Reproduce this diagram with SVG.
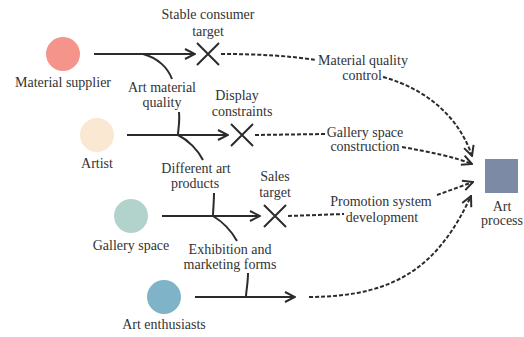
<svg xmlns="http://www.w3.org/2000/svg" width="524" height="337" viewBox="0 0 524 337">
<defs>
<marker id="arr" viewBox="0 0 12 12" refX="11" refY="6" markerWidth="12" markerHeight="12" markerUnits="userSpaceOnUse" orient="auto">
<polyline points="1,1 11,6 1,11" fill="none" stroke="#2b2b2b" stroke-width="2"/>
</marker>
</defs>
<style>
text{font-family:'Liberation Serif','Times New Roman',Times,serif;font-size:14px;fill:#333;text-anchor:middle}
.s{fill:none;stroke:#2b2b2b;stroke-width:2}
.d{fill:none;stroke:#2b2b2b;stroke-width:2;stroke-dasharray:4,2}
</style>
<rect width="524" height="337" fill="#fff"/>
<g font-family="Liberation Serif, serif">
<g id="material-supplier"><circle cx="63" cy="54" r="17" fill="#F4948A"/><text x="63" y="87">Material supplier</text></g>
<g id="artist"><circle cx="97" cy="135" r="17" fill="#FBE8D2"/><text x="97" y="168">Artist</text></g>
<g id="gallery-space"><circle cx="131" cy="216" r="17" fill="#B2D3CC"/><text x="131" y="250">Gallery space</text></g>
<g id="art-enthusiasts"><circle cx="164" cy="297" r="17" fill="#7FB3C8"/><text x="164" y="329">Art enthusiasts</text></g>
<g id="art-process"><rect x="485" y="159" width="33" height="34" fill="#7D8AA6"/><text x="502" y="211">Art</text><text x="502" y="225">process</text></g>
<g id="x1"><path class="s" d="M197,43 L219,65 M197,65 L219,43"/></g>
<g id="x2"><path class="s" d="M231,124 L253,146 M231,146 L253,124"/></g>
<g id="x3"><path class="s" d="M264,205 L286,227 M264,227 L286,205"/></g>
<g id="labels">
<text x="208" y="19">Stable consumer</text><text x="208" y="36">target</text>
<text x="162" y="92">Art material</text><text x="162" y="107">quality</text>
<text x="237" y="100">Display</text><text x="242" y="116">constraints</text>
<text x="196" y="173">Different art</text><text x="195" y="188">products</text>
<text x="275" y="181">Sales</text><text x="275" y="197">target</text>
<text x="230" y="254">Exhibition and</text><text x="230" y="269">marketing forms</text>
<text x="363" y="65">Material quality</text><text x="362" y="80">control</text>
<text x="365" y="137">Gallery space</text><text x="365" y="151">construction</text>
<text x="381" y="206">Promotion system</text><text x="382" y="222">development</text>
</g>
</g>
<g id="connectors">
<path class="s" d="M94,54 L195,54" marker-end="url(#arr)"/>
<path class="s" d="M143,54 C158,58 168,68 172,79"/>
<path class="s" d="M127,135 L228,135" marker-end="url(#arr)"/>
<path class="s" d="M179,112 C180,122 178,130 178,135 C188,140 198,150 203,160"/>
<path class="s" d="M162,216 L260,216" marker-end="url(#arr)"/>
<path class="s" d="M214,193 C214,203 213,210 213,216 C223,222 232,232 237,241"/>
<path class="s" d="M195,297 L295,297" marker-end="url(#arr)"/>
<path class="s" d="M248,273 C248,283 246,292 246,297"/>
<path class="d" d="M221,54 C260,54 290,56 316,60"/>
<path class="d" d="M255,135 L326,134"/>
<path class="d" d="M288,216 L344,214"/>
<path class="d" d="M383,77 C430,90 460,120 472,156" marker-end="url(#arr)"/>
<path class="d" d="M402,147 C430,152 455,157 472,164" marker-end="url(#arr)"/>
<path class="d" d="M437,195 L473,182" marker-end="url(#arr)"/>
<path class="d" d="M309,297 C400,297 440,262 471,196" marker-end="url(#arr)"/>
</g>
</svg>
